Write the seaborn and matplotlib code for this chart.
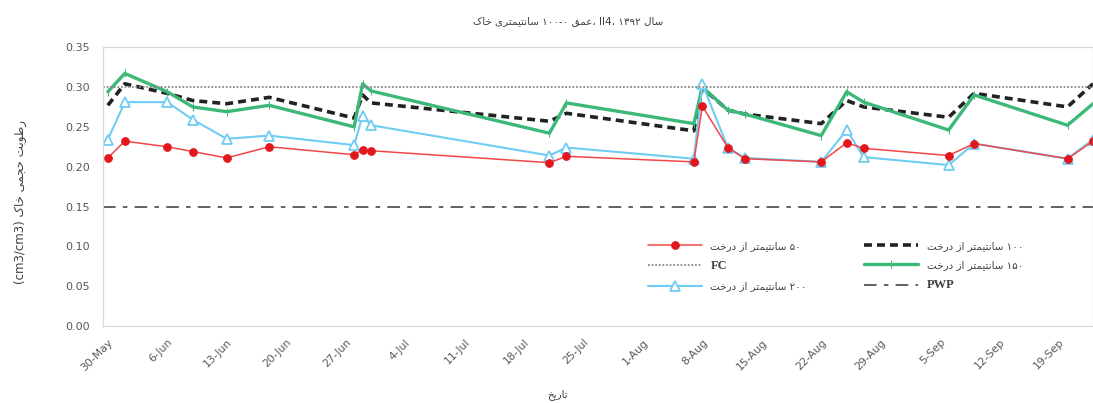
import re
import matplotlib
matplotlib.use("Agg")
import matplotlib.pyplot as plt
import seaborn as sns
import pandas as pd

# ---------------- data ----------------
dates = ["2013-05-30", "2013-06-01", "2013-06-06", "2013-06-09", "2013-06-13", "2013-06-18",
         "2013-06-28", "2013-06-29", "2013-06-30", "2013-07-21", "2013-07-23", "2013-08-07",
         "2013-08-08", "2013-08-11", "2013-08-13", "2013-08-22", "2013-08-25", "2013-08-27",
         "2013-09-06", "2013-09-09", "2013-09-20", "2013-09-23"]
cm50 = [0.211, 0.232, 0.225, 0.219, 0.211, 0.225, 0.215, 0.221, 0.220, 0.205, 0.213, 0.206,
        0.276, 0.224, 0.210, 0.206, 0.230, 0.223, 0.214, 0.229, 0.210, 0.232]
cm100 = [0.277, 0.304, 0.292, 0.283, 0.279, 0.287, 0.261, 0.290, 0.280, 0.257, 0.267, 0.245,
         0.299, 0.271, 0.266, 0.254, 0.283, 0.275, 0.262, 0.292, 0.275, 0.304]
cm150 = [0.294, 0.317, 0.294, 0.275, 0.269, 0.277, 0.250, 0.304, 0.295, 0.242, 0.280, 0.254,
         0.300, 0.271, 0.266, 0.239, 0.294, 0.281, 0.246, 0.290, 0.252, 0.279]
cm200 = [0.234, 0.281, 0.281, 0.259, 0.235, 0.239, 0.227, 0.264, 0.252, 0.214, 0.224, 0.210,
         0.304, 0.224, 0.211, 0.206, 0.246, 0.212, 0.202, 0.229, 0.210, 0.234]
fc_value = 0.30
pwp_value = 0.15
tick_labels = ["30-May", "6-Jun", "13-Jun", "20-Jun", "27-Jun", "4-Jul", "11-Jul", "18-Jul",
               "25-Jul", "1-Aug", "8-Aug", "15-Aug", "22-Aug", "29-Aug", "5-Sep", "12-Sep", "19-Sep"]
y_ticks = [0.00, 0.05, 0.10, 0.15, 0.20, 0.25, 0.30, 0.35]

# ---------------- simple Persian shaping ----------------
FORMS = {
    'ا': ('\uFE8D', '\uFE8E', None, None),
    'ب': ('\uFE8F', '\uFE90', '\uFE91', '\uFE92'),
    'ت': ('\uFE95', '\uFE96', '\uFE97', '\uFE98'),
    'ج': ('\uFE9D', '\uFE9E', '\uFE9F', '\uFEA0'),
    'ح': ('\uFEA1', '\uFEA2', '\uFEA3', '\uFEA4'),
    'خ': ('\uFEA5', '\uFEA6', '\uFEA7', '\uFEA8'),
    'د': ('\uFEA9', '\uFEAA', None, None),
    'ر': ('\uFEAD', '\uFEAE', None, None),
    'ز': ('\uFEAF', '\uFEB0', None, None),
    'س': ('\uFEB1', '\uFEB2', '\uFEB3', '\uFEB4'),
    'ط': ('\uFEC1', '\uFEC2', '\uFEC3', '\uFEC4'),
    'ع': ('\uFEC9', '\uFECA', '\uFECB', '\uFECC'),
    'ق': ('\uFED5', '\uFED6', '\uFED7', '\uFED8'),
    'ل': ('\uFEDD', '\uFEDE', '\uFEDF', '\uFEE0'),
    'م': ('\uFEE1', '\uFEE2', '\uFEE3', '\uFEE4'),
    'ن': ('\uFEE5', '\uFEE6', '\uFEE7', '\uFEE8'),
    'ه': ('\uFEE9', '\uFEEA', '\uFEEB', '\uFEEC'),
    'و': ('\uFEED', '\uFEEE', None, None),
    'ی': ('\uFBFC', '\uFBFD', '\uFBFE', '\uFBFF'),
    'ک': ('\uFB8E', '\uFB8F', '\uFB90', '\uFB91'),
}


def _dual(c):
    return c in FORMS and FORMS[c][2] is not None


def shape(s):
    out, i, n = [], 0, len(s)
    while i < n:
        c = s[i]
        if c not in FORMS:
            out.append(c)
            i += 1
            continue
        jp = i > 0 and _dual(s[i - 1])
        if c == 'ل' and i + 1 < n and s[i + 1] == 'ا':
            out.append('\uFEFC' if jp else '\uFEFB')
            i += 2
            continue
        jn = _dual(c) and i + 1 < n and s[i + 1] in FORMS
        iso, fin, ini, med = FORMS[c]
        out.append(med if (jp and jn) else fin if jp else ini if jn else iso)
        i += 1
    return ''.join(out)


def rtl(s):
    v = shape(s)[::-1]
    return re.sub(r'[0-9۰-۹A-Za-z][0-9۰-۹A-Za-z\-]*', lambda m: m.group(0)[::-1], v)


# ---------------- plot ----------------
sns.set_theme(style="white")
plt.rcParams['font.family'] = ['DejaVu Sans']

df = pd.DataFrame({"date": pd.to_datetime(dates), "c50": cm50, "c100": cm100,
                   "c150": cm150, "c200": cm200})

fig = plt.figure(figsize=(10.93, 4.03), dpi=100)
ax = fig.add_axes([0.094, 0.191, 0.906, 0.692])

red, black, green, blue = "#f04848", "#222222", "#3cb878", "#6fcdf2"

sns.lineplot(data=df, x="date", y="c100", ax=ax, color=black, lw=2.6,
             linestyle=(0, (2.2, 1.4)), label=rtl("۱۰۰ سانتیمتر از درخت"))
sns.lineplot(data=df, x="date", y="c150", ax=ax, color=green, lw=2.4, marker="|",
             markersize=6, markeredgecolor=green, label=rtl("۱۵۰ سانتیمتر از درخت"))
sns.lineplot(data=df, x="date", y="c200", ax=ax, color=blue, lw=1.5, marker="^",
             markersize=6.5, markerfacecolor="white", markeredgecolor=blue, markeredgewidth=1.3,
             label=rtl("۲۰۰ سانتیمتر از درخت"))
sns.lineplot(data=df, x="date", y="c50", ax=ax, color=red, lw=1.1, marker="o",
             markersize=5.5, markerfacecolor="#e3161e", markeredgecolor="#e3161e",
             label=rtl("۵۰ سانتیمتر از درخت"))
ax.axhline(fc_value, color="#8a8a8a", lw=1.3, linestyle=(0, (1, 1)), label="FC")
ax.axhline(pwp_value, color="#555555", lw=1.3, linestyle=(0, (7, 4, 2.5, 4)), label="PWP")

t0 = pd.Timestamp("2013-05-30")
ax.set_xlim(t0 - pd.Timedelta(days=0.6), t0 + pd.Timedelta(days=116.0))
ax.set_ylim(0, 0.35)

tick_pos = [pd.to_datetime(t + "-2013", format="%d-%b-%Y") for t in tick_labels]
ax.set_xticks(tick_pos)
ax.set_xticklabels(tick_labels, rotation=45, ha="right", rotation_mode="anchor",
                   fontsize=7.8, color="#595959")
ax.set_yticks(y_ticks)
ax.set_yticklabels([f"{v:.2f}" for v in y_ticks], fontsize=8, color="#595959")
ax.tick_params(axis="both", which="both", length=3, width=0.8, color="#bfbfbf",
               direction="out")
ax.tick_params(axis="x", pad=5)
ax.tick_params(axis="y", pad=6)
ax.set_xlabel("")
ax.set_ylabel("")
for sp in ax.spines.values():
    sp.set_color("#d9d9d9")
    sp.set_linewidth(0.9)

# legend
h, l = ax.get_legend_handles_labels()
lab = dict(zip(l, h))
order = [rtl("۵۰ سانتیمتر از درخت"), "FC", rtl("۲۰۰ سانتیمتر از درخت"),
         rtl("۱۰۰ سانتیمتر از درخت"), rtl("۱۵۰ سانتیمتر از درخت"), "PWP"]
leg = ax.legend([lab[k] for k in order], order, ncol=2, loc="center",
                bbox_to_anchor=(0.74, 0.215), frameon=False, fontsize=7.5,
                handlelength=5.2, columnspacing=5.5, labelspacing=0.9, handletextpad=0.8)
for t in leg.get_texts():
    t.set_color("#404040")
    if t.get_text() in ("FC", "PWP"):
        t.set_fontfamily(["Liberation Serif"])
        t.set_fontweight("bold")
        t.set_fontsize(9)

# titles
title = rtl("عمق ۱۰۰-۰ سانتیمتری خاک") + "، II4، " + rtl("سال ۱۳۹۲")
fig.text(0.52, 0.948, title, ha="center", va="center", fontsize=7.5, color="#404040")
fig.text(0.019, 0.50, "(cm3/cm3) " + rtl("رطوبت حجمی خاک"), rotation=90,
         ha="center", va="center", fontsize=8.5, color="#404040")
fig.text(0.51, 0.022, rtl("تاریخ"), ha="center", va="center", fontsize=7.5, color="#404040")

fig.savefig("out.png", dpi=100)
